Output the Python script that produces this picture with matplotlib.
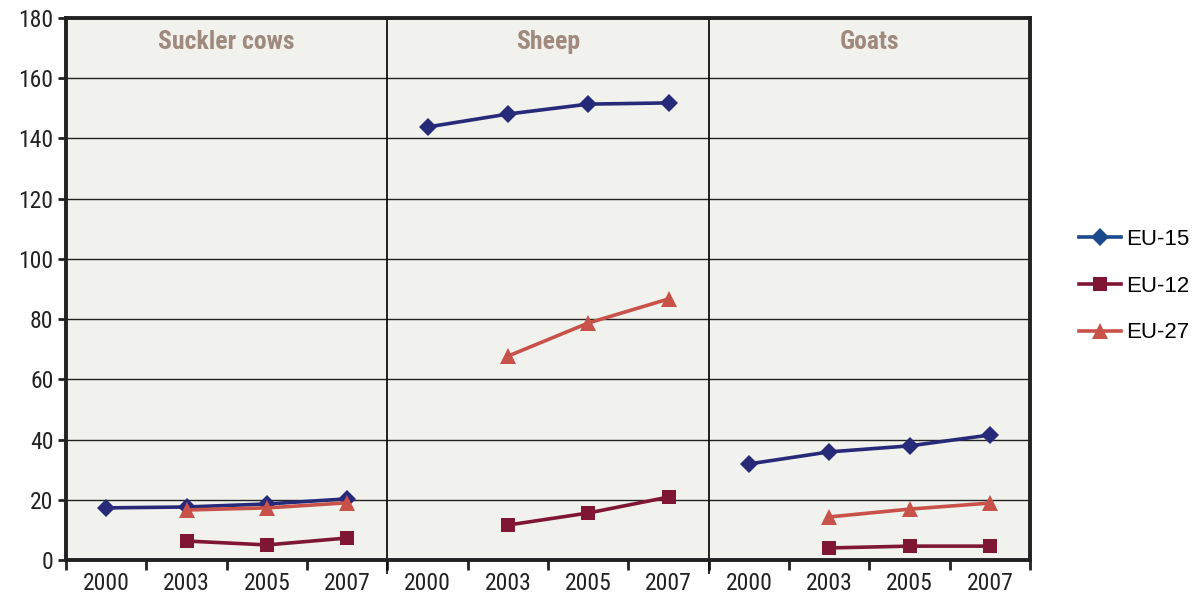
import matplotlib.pyplot as plt
import numpy as np
from matplotlib import font_manager

groups = ["Suckler cows", "Sheep", "Goats"]
years = ["2000", "2003", "2005", "2007"]

# values per group, one list of 4 years each (None = no data)
eu15 = [[17.3, 17.6, 18.6, 20.3],
        [143.8, 148.1, 151.4, 151.8],
        [31.9, 35.9, 37.9, 41.5]]
eu12 = [[None, 6.3, 5.0, 7.3],
        [None, 11.6, 15.6, 20.9],
        [None, 4.0, 4.6, 4.6]]
eu27 = [[None, 16.6, 17.3, 19.0],
        [None, 67.7, 78.7, 86.7],
        [None, 14.3, 16.9, 18.9]]

# narrow face for axis text if one is around
names = {f.name for f in font_manager.fontManager.ttflist}
narrow = None
for cand in ["Liberation Sans Narrow", "DejaVu Sans Condensed", "Roboto Condensed",
             "Open Sans Condensed", "Noto Sans Condensed"]:
    if cand in names:
        narrow = cand
        break
if narrow is None:
    narrow_kw = dict(family="DejaVu Sans", stretch="condensed")
    tick_size, title_size = 13.5, 15.5
else:
    narrow_kw = dict(family=narrow)
    tick_size, title_size = 17, 18.5

fig = plt.figure(figsize=(12.03, 6.10), dpi=100)
ax = fig.add_axes([0.0549, 0.082, 0.8014, 0.8885])
ax.set_facecolor("#f1f1ed")

styles = [
    ("EU-15", eu15, dict(color="#262a78", marker="D", markersize=9)),
    ("EU-12", eu12, dict(color="#7f1734", marker="s", markersize=10)),
    ("EU-27", eu27, dict(color="#c8524a", marker="^", markersize=11)),
]

n = len(years)
for label, data, st in styles:
    for g, vals in enumerate(data):
        x = np.arange(n) + g * n
        y = np.array([np.nan if v is None else v for v in vals], dtype=float)
        ax.plot(x, y, linewidth=2.6, label=label if g == 0 else None,
                markeredgewidth=0, **st)

ax.set_xlim(-0.5, len(groups) * n - 0.5)
ax.set_ylim(0, 180)
ax.set_yticks(np.arange(0, 181, 20))
ax.yaxis.grid(True, color="#222222", linewidth=1.0)
ax.set_axisbelow(True)

# year labels under each point, tick marks on category boundaries
ax.set_xticks(np.arange(len(groups) * n))
ax.set_xticklabels(years * len(groups))
ax.tick_params(axis="x", length=0, pad=9)
ax.set_xticks(np.arange(len(groups) * n + 1) - 0.5, minor=True)
ax.tick_params(axis="x", which="minor", length=7, width=2, color="#222222")
ax.tick_params(axis="y", length=6, width=2, color="#222222", pad=3)

for lbl in ax.get_xticklabels() + ax.get_yticklabels():
    lbl.set(fontsize=tick_size, color="#222222", **narrow_kw)

for s in ax.spines.values():
    s.set_linewidth(2.8)
    s.set_color("#222222")

# separators between animal groups
for g in range(1, len(groups)):
    ax.axvline(g * n - 0.5, ymin=-0.024, ymax=1, color="#111111",
               linewidth=1.3, clip_on=False)

for g, name in enumerate(groups):
    ax.text(g * n + (n - 1) / 2, 172, name, ha="center", va="center",
            fontsize=title_size, fontweight="bold", color="#a08a7e", **narrow_kw)

leg = ax.legend(loc="center left", bbox_to_anchor=(1.03, 0.505), frameon=False,
                prop=dict(family="Liberation Sans", size=16), handlelength=1.9,
                labelspacing=1.15, handletextpad=0.2)
leg.get_lines()[0].set_color("#1d4a8c")

fig.savefig("out.png", dpi=100)
